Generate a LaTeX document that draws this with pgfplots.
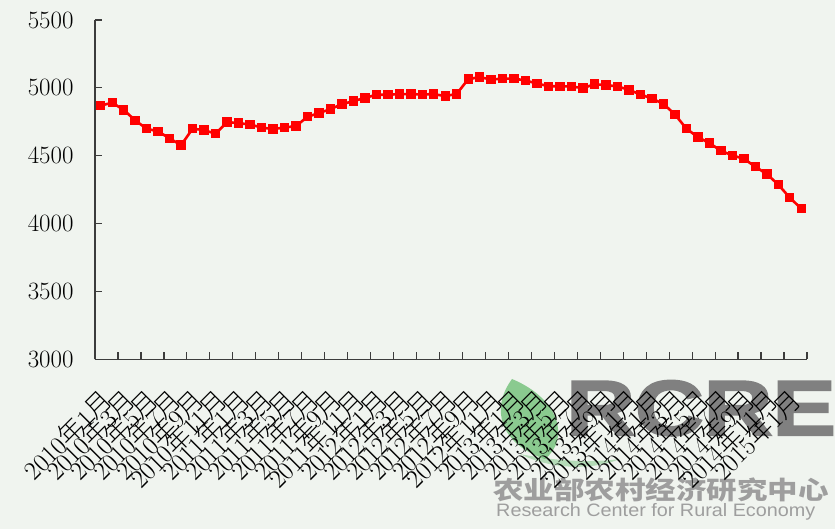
\documentclass[border=0pt]{standalone}
\usepackage{fontspec}
\usepackage{pgfplots}
\pgfplotsset{compat=1.18}
\newfontfamily\cjk[UprightFont={* Light}]{Noto Sans CJK SC}
\newfontfamily\cjkwm{Noto Sans CJK SC}
\newfontfamily\wmfont{Liberation Sans}
\newfontfamily\wmheavy[FakeBold=2.5]{Liberation Sans}
\definecolor{bg}{RGB}{240,244,239}
\definecolor{axisgray}{RGB}{60,60,60}
\definecolor{leaf}{RGB}{70,175,80}
\newcommand\LB[2]{#1{\cjk 年}#2{\cjk 月}}
\pgfplotstableread{
x y
0 4870
1 4890
2 4838
3 4760
4 4699
5 4679
6 4627
7 4578
8 4699
9 4689
10 4662
11 4748
12 4740
13 4730
14 4708
15 4696
16 4708
17 4718
18 4787
19 4814
20 4843
21 4880
22 4902
23 4926
24 4949
25 4949
26 4954
27 4954
28 4951
29 4954
30 4939
31 4956
32 5064
33 5079
34 5061
35 5068
36 5068
37 5054
38 5032
39 5012
40 5012
41 5010
42 4998
43 5027
44 5020
45 5011
46 4985
47 4951
48 4921
49 4882
50 4804
51 4699
52 4637
53 4593
54 4537
55 4502
56 4478
57 4419
58 4365
59 4287
60 4191
61 4110
}\pricedata
\begin{document}
\begin{tikzpicture}
\path[use as bounding box, fill=bg] (0pt,0pt) rectangle (835pt,529pt);
% watermark
\fill[leaf, opacity=0.6] (512pt,150pt) .. controls (490pt,120pt) and (500pt,85pt) .. (545pt,70pt)
   .. controls (570pt,90pt) and (560pt,130pt) .. cycle;
\fill[leaf, opacity=0.35] (520pt,75pt) .. controls (550pt,60pt) and (590pt,58pt) .. (620pt,70pt)
   .. controls (590pt,66pt) and (555pt,68pt) .. cycle;
\node[anchor=south west, inner sep=0pt, text=black!50, font=\wmheavy\bfseries\fontsize{78}{78}\selectfont, xscale=1.22] at (566pt,93pt) {RCRE};
\node[anchor=south west, inner sep=0pt, text=black!38, font=\cjkwm\bfseries\fontsize{25}{25}\selectfont, xscale=1.22] at (493pt,27pt) {农业部农村经济研究中心};
\node[anchor=south west, inner sep=0pt, text=black!38, font=\wmfont\fontsize{18}{18}\selectfont, xscale=1.1] at (496pt,9pt) {Research Center for Rural Economy};
\begin{axis}[
  at={(95pt,169.7pt)}, anchor=south west,
  scale only axis, width=712pt, height=339.3pt,
  xmin=-0.5, xmax=61.5, ymin=3000, ymax=5500,
  axis lines=left, axis line style={-, axisgray, line width=1.2pt},
  tick align=inside, major tick length=7pt,
  tick style={axisgray, line width=1.2pt},
  ytick={3000,3500,...,5500},
  xtick={-0.5,1.5,...,61.5},
  xticklabels={\LB{2010}{1},\LB{2010}{3},\LB{2010}{5},\LB{2010}{7},\LB{2010}{9},\LB{2010}{11},
    \LB{2011}{1},\LB{2011}{3},\LB{2011}{5},\LB{2011}{7},\LB{2011}{9},\LB{2011}{11},
    \LB{2012}{1},\LB{2012}{3},\LB{2012}{5},\LB{2012}{7},\LB{2012}{9},\LB{2012}{11},
    \LB{2013}{1},\LB{2013}{3},\LB{2013}{5},\LB{2013}{7},\LB{2013}{9},\LB{2013}{11},
    \LB{2014}{1},\LB{2014}{3},\LB{2014}{5},\LB{2014}{7},\LB{2014}{9},\LB{2014}{11},
    \LB{2015}{1},{}},
  xticklabel style={rotate=45, anchor=north east, inner sep=0pt, font=\fontsize{26}{26}\selectfont, yshift=-22pt, xshift=-17pt},
  yticklabel style={font=\fontsize{25}{25}\selectfont, xshift=-18pt},
  /pgf/number format/1000 sep={},
  scaled y ticks=false,
  clip=false,
]
\addplot[red, line width=2.6pt, mark=square*, mark size=4.2pt, mark options={solid, fill=red, draw=red, line width=0pt}] table[x=x,y=y] {\pricedata};
\end{axis}
\end{tikzpicture}
\end{document}
